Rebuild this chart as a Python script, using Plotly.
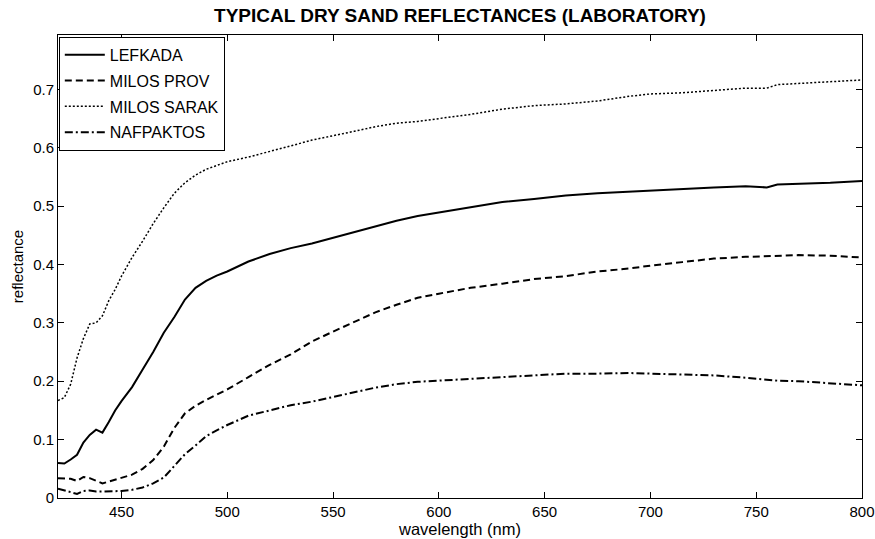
import plotly.graph_objects as go

wavelength = [420, 423, 426, 429, 432, 435, 438, 441, 444, 447, 450, 455, 460, 465, 470,
              475, 480, 485, 490, 495, 500, 510, 520, 530, 540, 550, 560, 570, 580, 590,
              600, 615, 630, 645, 660, 675, 690, 700, 715, 730, 745, 755, 760, 770, 785, 800]

lefkada = [0.060, 0.059, 0.066, 0.074, 0.095, 0.108, 0.117, 0.112, 0.130, 0.150, 0.166,
           0.190, 0.220, 0.250, 0.283, 0.310, 0.340, 0.360, 0.372, 0.381, 0.388, 0.405,
           0.418, 0.428, 0.436, 0.446, 0.456, 0.466, 0.475, 0.483, 0.489, 0.498, 0.507,
           0.512, 0.518, 0.522, 0.525, 0.527, 0.530, 0.532, 0.534, 0.532, 0.537, 0.538,
           0.540, 0.543]

milos_prov = [0.034, 0.033, 0.033, 0.029, 0.036, 0.034, 0.030, 0.025, 0.028, 0.031, 0.034,
              0.040, 0.050, 0.065, 0.088, 0.120, 0.145, 0.158, 0.168, 0.177, 0.186, 0.207,
              0.228, 0.246, 0.268, 0.285, 0.302, 0.318, 0.331, 0.343, 0.350, 0.360, 0.367,
              0.375, 0.380, 0.388, 0.393, 0.398, 0.404, 0.410, 0.413, 0.414, 0.415, 0.416,
              0.415, 0.412]

milos_sarak = [0.167, 0.172, 0.195, 0.240, 0.273, 0.298, 0.300, 0.312, 0.338, 0.357, 0.380,
               0.412, 0.440, 0.470, 0.497, 0.522, 0.540, 0.553, 0.563, 0.570, 0.576, 0.584,
               0.593, 0.603, 0.613, 0.620, 0.628, 0.636, 0.642, 0.645, 0.650, 0.657, 0.666,
               0.672, 0.675, 0.680, 0.688, 0.692, 0.694, 0.698, 0.702, 0.702, 0.708, 0.710,
               0.713, 0.716]

nafpaktos = [0.016, 0.013, 0.010, 0.007, 0.012, 0.013, 0.011, 0.011, 0.011, 0.012, 0.012,
             0.014, 0.018, 0.025, 0.035, 0.055, 0.075, 0.090, 0.106, 0.116, 0.125, 0.141,
             0.150, 0.159, 0.165, 0.173, 0.182, 0.189, 0.195, 0.199, 0.201, 0.204, 0.208,
             0.211, 0.213, 0.213, 0.214, 0.213, 0.212, 0.210, 0.206, 0.203, 0.201, 0.200,
             0.197, 0.193]

series_names = ["LEFKADA", "MILOS PROV", "MILOS SARAK", "NAFPAKTOS"]
series_values = [lefkada, milos_prov, milos_sarak, nafpaktos]
series_dash = ["solid", "7px,4px", "2px,2px", "8px,3px,2px,3px"]
series_width = [2, 2, 1.5, 2]

x_ticks = [450, 500, 550, 600, 650, 700, 750, 800]
y_ticks = [0, 0.1, 0.2, 0.3, 0.4, 0.5, 0.6, 0.7]
y_tick_labels = ["0", "0.1", "0.2", "0.3", "0.4", "0.5", "0.6", "0.7"]

FONT = "Liberation Sans, Arial, sans-serif"

fig = go.Figure()
for name, vals, dash, w in zip(series_names, series_values, series_dash, series_width):
    fig.add_trace(go.Scatter(
        x=wavelength, y=vals, mode="lines", name=name, legendgroup=name,
        line=dict(color="black", width=w, dash=dash),
    ))

fig.update_layout(
    width=875, height=539,
    margin=dict(l=58, r=13, t=35, b=41),
    paper_bgcolor="white", plot_bgcolor="white",
    font=dict(family=FONT, size=14, color="black"),
    title=dict(text="<b>TYPICAL DRY SAND REFLECTANCES (LABORATORY)</b>",
               x=0.5, xref="paper", xanchor="center", y=0.972, yanchor="middle",
               font=dict(family=FONT, size=19, color="black")),
    showlegend=True,
    legend=dict(x=0.001, y=0.996, xanchor="left", yanchor="top",
                bgcolor="white", bordercolor="black", borderwidth=1,
                font=dict(family=FONT, size=16, color="black"),
                tracegroupgap=2, itemwidth=40),
    xaxis=dict(range=[420, 800], tickvals=x_ticks, ticks="inside", ticklen=6,
               tickcolor="black", showline=True, linecolor="black", linewidth=1,
               mirror="ticks", showgrid=False, zeroline=False, automargin=False,
               title=dict(text="wavelength (nm)", standoff=1,
                          font=dict(family=FONT, size=16.5, color="black")),
               tickfont=dict(family=FONT, size=15, color="black")),
    yaxis=dict(range=[0, 0.793], tickvals=y_ticks, ticktext=y_tick_labels,
               ticks="inside", ticklen=6, tickcolor="black", showline=True,
               linecolor="black", linewidth=1, mirror="ticks", showgrid=False,
               zeroline=False, automargin=False,
               title=dict(text="reflectance", standoff=5,
                          font=dict(family=FONT, size=15, color="black")),
               tickfont=dict(family=FONT, size=15, color="black")),
)

fig.write_html("out.html",
               config={"displayModeBar": False},
               post_script="document.body.style.margin='0';document.body.style.overflow='hidden';")
